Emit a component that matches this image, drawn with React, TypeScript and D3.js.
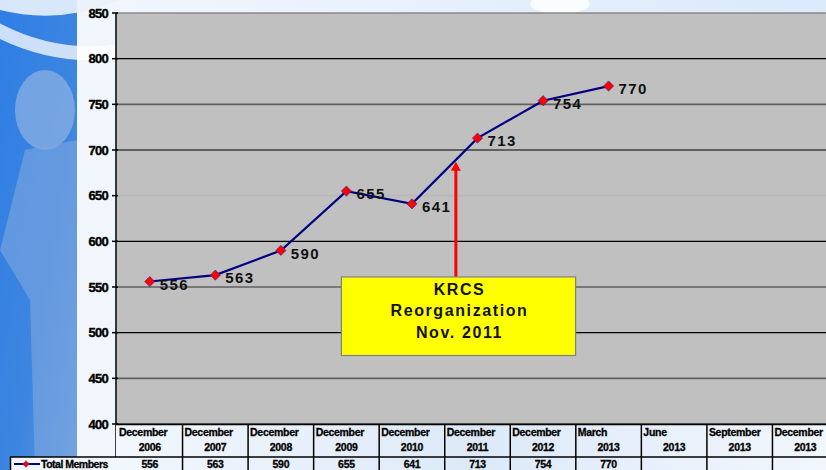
import React from 'react';
import * as d3 from 'd3';

const months = ['December', 'December', 'December', 'December', 'December', 'December', 'December', 'March', 'June', 'September', 'December'];
const years = ['2006', '2007', '2008', '2009', '2010', '2011', '2012', '2013', '2013', '2013', '2013'];
const members = [556, 563, 590, 655, 641, 713, 754, 770];
const yTicks = [400, 450, 500, 550, 600, 650, 700, 750, 800, 850];
const seriesName = 'Total Members';
const noteLines = ['KRCS', 'Reorganization', 'Nov. 2011'];

const W = 826;
const H = 470;
const plot = { left: 116, right: 838, top: 13, bottom: 424 };

const App = () => {
  const cats = months.map((m, i) => `${m} ${years[i]}`);

  const x = d3.scaleBand<string>()
    .domain(cats)
    .range([plot.left + 1, plot.right]);

  const y = d3.scaleLinear()
    .domain([400, 850])
    .range([plot.bottom, plot.top]);

  const cx = (i: number) => x(cats[i])! + x.bandwidth() / 2;

  const pts = members.map((v, i) => ({ v, i }));

  const line = d3.line<{ v: number; i: number }>()
    .x(d => cx(d.i))
    .y(d => y(d.v));

  // square rotated 45 degrees = diamond marker
  const marker = d3.symbol().type(d3.symbolSquare).size(52)()!;

  // arrow sits between Dec 2010 and Dec 2011
  const arrowX = cx(4) + (cx(5) - cx(4)) * 0.67;
  const boxX0 = cx(3) - 5;
  const boxX1 = cx(7) - 33;
  const boxY0 = y(561);
  const boxY1 = y(475);
  const arrowTop = y(687);

  const rowTop = plot.bottom;
  const rowMid = 457;

  return (
    <svg width={W} height={H} style={{ position: 'absolute', left: 0, top: 0 }}
      fontFamily="'Liberation Sans', Arial, sans-serif">
      <defs>
        <linearGradient id="bgBlue" x1="0" y1="0" x2="1" y2="1">
          <stop offset="0%" stopColor="#2f7ee6" />
          <stop offset="60%" stopColor="#3d86df" />
          <stop offset="100%" stopColor="#5f9be3" />
        </linearGradient>
        <linearGradient id="bgLight" x1="0" y1="0" x2="1" y2="0">
          <stop offset="0%" stopColor="#f4f8fd" />
          <stop offset="100%" stopColor="#dbe9fa" />
        </linearGradient>
        <linearGradient id="cellBg" x1="0" y1="0" x2="1" y2="0">
          <stop offset="0%" stopColor="#f2f7fd" />
          <stop offset="50%" stopColor="#dde9f8" />
          <stop offset="100%" stopColor="#f2f7fd" />
        </linearGradient>
      </defs>

      {/* slide background */}
      <rect x={0} y={0} width={W} height={H} fill="url(#bgLight)" />
      <rect x={0} y={0} width={77} height={H} fill="url(#bgBlue)" />
      <ellipse cx={45} cy={110} rx={30} ry={40} fill="#8fb2e2" opacity={0.7} />
      <path d="M0,250 L25,150 L77,140 L77,470 L35,470 L30,300 Z" fill="#7ea6df" opacity={0.6} />
      <path d="M-20,20 Q60,70 150,45" fill="none" stroke="#ffffff" strokeWidth={14} opacity={0.75} />
      <path d="M0,0 L120,0 Q60,25 0,10 Z" fill="#eaf2fc" opacity={0.9} />
      <ellipse cx={560} cy={4} rx={30} ry={10} fill="#ffffff" opacity={0.8} />

      {/* plot area */}
      <rect x={plot.left} y={plot.top} width={plot.right - plot.left} height={plot.bottom - plot.top} fill="#c0c0c0" />
      {yTicks.map(t => (
        <line key={t} x1={plot.left} x2={plot.right} y1={y(t)} y2={y(t)}
          stroke={t === 850 ? '#8a8a8a' : t % 100 === 0 ? '#000' : t === 650 ? '#b8b8b8' : '#606060'}
          strokeWidth={t % 100 === 0 ? 1.2 : 1.6} />
      ))}

      {/* y axis */}
      <line x1={plot.left} x2={plot.left} y1={plot.top} y2={H} stroke="#000" strokeWidth={1.5} />
      {yTicks.map(t => (
        <g key={t} transform={`translate(0,${y(t)})`}>
          <line x1={plot.left - 4} x2={plot.left + 2} stroke="#000" strokeWidth={1.5} />
          <text x={plot.left - 8} dy="0.35em" textAnchor="end" fontSize={13} fontWeight="bold"
            letterSpacing={-0.7} stroke="#000" strokeWidth={0.4} fill="#000">{t}</text>
        </g>
      ))}

      {/* series */}
      <path d={line(pts)!} fill="none" stroke="#000080" strokeWidth={2.2} />
      {pts.map(d => (
        <path key={d.i} d={marker} transform={`translate(${cx(d.i)},${y(d.v)}) rotate(45)`}
          fill="#ff0000" stroke="#3030a0" strokeWidth={0.6} />
      ))}
      {pts.map(d => (
        <text key={d.i} x={cx(d.i) + 10} y={y(d.v)} dy="0.55em" fontSize={15} fontWeight="bold"
          letterSpacing={1.4} fill="#111">{d.v}</text>
      ))}

      {/* annotation */}
      <line x1={arrowX} x2={arrowX} y1={boxY0} y2={arrowTop + 8} stroke="#ff0000" strokeWidth={3} />
      <path d={`M${arrowX - 5},${arrowTop + 9} L${arrowX},${arrowTop} L${arrowX + 5},${arrowTop + 9} Z`} fill="#ff0000" />
      <rect x={boxX0} y={boxY0} width={boxX1 - boxX0} height={boxY1 - boxY0} fill="#ffff00" stroke="#808080" strokeWidth={1.2} />
      {noteLines.map((s, k) => (
        <text key={k} x={(boxX0 + boxX1) / 2 + 1} y={boxY0 + 18 + k * 21.5} textAnchor="middle"
          fontSize={16} fontWeight="bold" letterSpacing={1.6} fill="#111">{s}</text>
      ))}

      {/* data table */}
      <rect x={plot.left} y={rowTop} width={plot.right - plot.left} height={H - rowTop} fill="url(#cellBg)" />
      <rect x={10} y={rowMid} width={plot.left - 10} height={H - rowMid} fill="#f2f7fd" />
      <line x1={plot.left} x2={plot.right} y1={rowTop + 0.5} y2={rowTop + 0.5} stroke="#000" strokeWidth={1.5} />
      <line x1={10} x2={plot.right} y1={rowMid} y2={rowMid} stroke="#000" strokeWidth={1.5} />
      <line x1={10.5} x2={10.5} y1={rowMid} y2={H} stroke="#000" strokeWidth={1.5} />
      {cats.map((c, i) => (
        <g key={c} fontSize={10.5} fontWeight="bold" letterSpacing={-0.3} fill="#000" stroke="#000" strokeWidth={0.3}>
          <line x1={x(c)! + x.bandwidth()} x2={x(c)! + x.bandwidth()} y1={rowTop} y2={H} strokeWidth={1.5} />
          <text x={x(c)! + 2} y={rowTop + 12}>{months[i]}</text>
          <text x={cx(i)} y={rowTop + 27} textAnchor="middle">{years[i]}</text>
          {i < members.length && (
            <text x={cx(i)} y={rowMid + 11} textAnchor="middle">{members[i]}</text>
          )}
        </g>
      ))}
      <line x1={14} x2={40} y1={rowMid + 7} y2={rowMid + 7} stroke="#000080" strokeWidth={2} />
      <path d={d3.symbol().type(d3.symbolSquare).size(22)()!} transform={`translate(26,${rowMid + 7}) rotate(45)`} fill="#ff0000" stroke="#3030a0" strokeWidth={0.5} />
      <text x={41} y={rowMid + 11} fontSize={10.5} fontWeight="bold" letterSpacing={-0.5} stroke="#000" strokeWidth={0.3} fill="#000">{seriesName}</text>
    </svg>
  );
};

export default App;
